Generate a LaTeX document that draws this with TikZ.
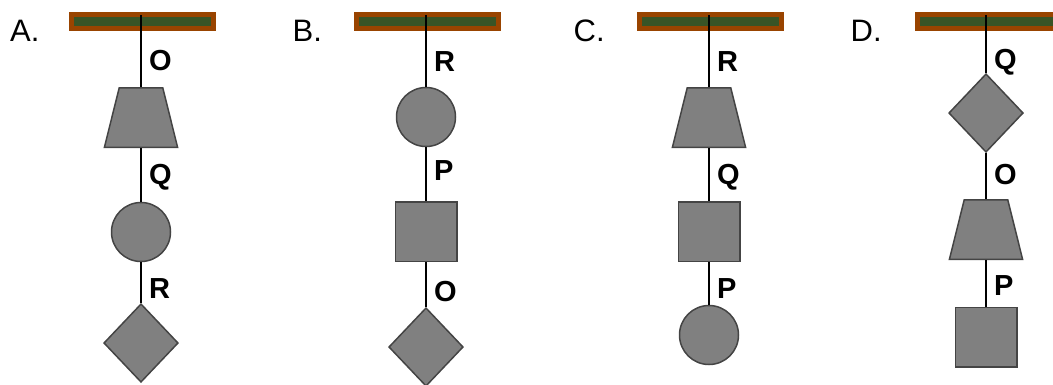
\documentclass[tikz,border=0pt]{standalone}
\usepackage{fontspec}
\setmainfont{Liberation Sans}
\usetikzlibrary{shapes.geometric}

\definecolor{beamline}{RGB}{153,68,0}
\definecolor{beamfill}{RGB}{56,84,38}
\definecolor{wgtfill}{RGB}{128,128,128}
\definecolor{wgtline}{RGB}{68,68,68}

\begin{document}
\begin{tikzpicture}[x=1pt,y=-1pt,
	beam/.style={draw=beamline,fill=beamfill,line width=5pt,inner sep=0pt,minimum width=142pt,minimum height=14pt},
	weight/.style={draw=wgtline,fill=wgtfill,line width=1.5pt,inner sep=0pt},
	trap/.style={weight,trapezium,trapezium angle=76,inner xsep=21.75pt,inner ysep=29.75pt},
	ball/.style={weight,circle,minimum size=59pt},
	block/.style={weight,rectangle,minimum width=61.5pt,minimum height=59.5pt},
	kite/.style={weight,diamond,minimum width=74.5pt,minimum height=78.5pt},
	string/.style={line width=2.4pt},
	tag/.style={font=\fontsize{29}{29}\selectfont\bfseries,inner sep=0pt,anchor=base west},
	letter/.style={font=\fontsize{31}{31}\selectfont,inner sep=0pt,anchor=base west}
]
\clip (0,0) rectangle (1053,384);

% A
\node[letter] (labA) at (10,41) {A.};
\node[beam] (beamA) at (142.5,21.5) {};
\coordinate (hookA) at (141,15);
\node[trap] (trapA) at (141,117.5) {};
\node[ball] (ballA) at (141,232) {};
\node[kite] (kiteA) at (141,343) {};
\draw[string] (hookA) -- (trapA.north) (trapA.south) -- (ballA.north) (ballA.south) -- (kiteA.north);
\node[tag] at (149,70) {O};
\node[tag] at (149,184) {Q};
\node[tag] at (149,298) {R};

% B
\node[letter] (labB) at (292.5,41) {B.};
\node[beam] (beamB) at (427.5,21.5) {};
\coordinate (hookB) at (426,15);
\node[ball] (ballB) at (426,117) {};
\node[block] (blockB) at (426,231.5) {};
\node[kite] (kiteB) at (426,347) {};
\draw[string] (hookB) -- (ballB.north) (ballB.south) -- (blockB.north) (blockB.south) -- (kiteB.north);
\node[tag] at (434,71) {R};
\node[tag] at (434,180) {P};
\node[tag] at (434,301) {O};

% C
\node[letter] (labC) at (573.5,41) {C.};
\node[beam] (beamC) at (710.5,21.5) {};
\coordinate (hookC) at (709,15);
\node[trap] (trapC) at (709,117.5) {};
\node[block] (blockC) at (709,231.5) {};
\node[ball] (ballC) at (709,335) {};
\draw[string] (hookC) -- (trapC.north) (trapC.south) -- (blockC.north) (blockC.south) -- (ballC.north);
\node[tag] at (717,71) {R};
\node[tag] at (717,184) {Q};
\node[tag] at (717,298) {P};

% D
\node[letter] (labD) at (850.5,41) {D.};
\node[beam] (beamD) at (988.5,21.5) {};
\coordinate (hookD) at (986,15);
\node[kite] (kiteD) at (986,113) {};
\node[trap] (trapD) at (986,229.5) {};
\node[block] (blockD) at (986,337) {};
\draw[string] (hookD) -- (kiteD.north) (kiteD.south) -- (trapD.north) (trapD.south) -- (blockD.north);
\node[tag] at (994,69) {Q};
\node[tag] at (994,184) {O};
\node[tag] at (994,295) {P};
\end{tikzpicture}
\end{document}
